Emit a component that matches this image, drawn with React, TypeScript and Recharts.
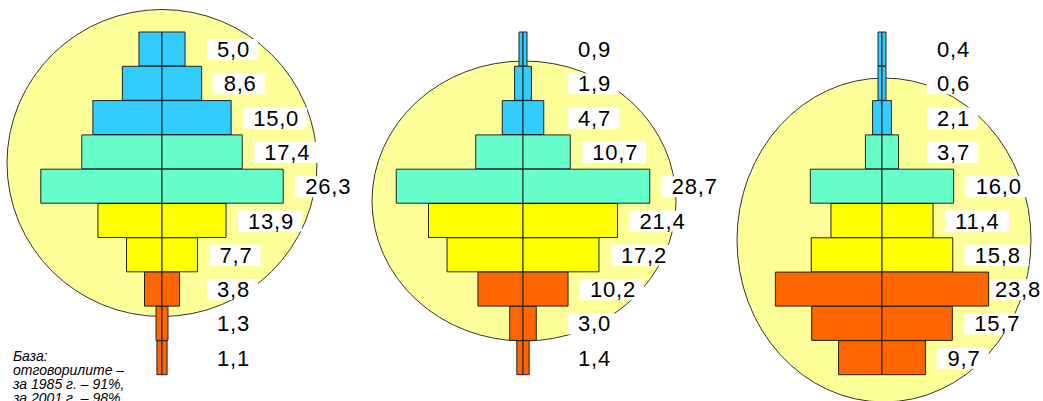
import { BarChart, Bar, XAxis, YAxis, Cell, LabelList } from 'recharts';

// ten strata, top to bottom, same for all three pyramids
const GROUPS = ['1', '2', '3', '4', '5', '6', '7', '8', '9', '10'];

const VALUES_A = [5.0, 8.6, 15.0, 17.4, 26.3, 13.9, 7.7, 3.8, 1.3, 1.1];
const VALUES_B = [0.9, 1.9, 4.7, 10.7, 28.7, 21.4, 17.2, 10.2, 3.0, 1.4];
const VALUES_C = [0.4, 0.6, 2.1, 3.7, 16.0, 11.4, 15.8, 23.8, 15.7, 9.7];

const NOTE_LINES = ['База:', 'отговорилите –', 'за 1985 г. – 91%,', 'за 2001 г. – 98%'];

const ROW_FILLS = [
  '#33CCFF', '#33CCFF', '#33CCFF',
  '#66FFCC', '#66FFCC',
  '#FFFF00', '#FFFF00',
  '#FF6600', '#FF6600', '#FF6600',
];

const W = 1043;
const H = 401;
const PLOT_W = 318;
const LABEL_FONT = 22;
const LABEL_SPACING = 0.8;

const fmt = (v: number) => v.toFixed(1).replace('.', ',');

function textWidth(s: string) {
  let w = 0;
  for (const ch of s) w += (ch === ',' ? 0.278 : 0.556) * LABEL_FONT + LABEL_SPACING;
  return w;
}

function makeLabel(limit: number) {
  return (props: any) => {
    const vb = props.viewBox ?? {};
    const x = Number(props.x ?? vb.x);
    const y = Number(props.y ?? vb.y);
    const width = Number(props.width ?? vb.width);
    const height = Number(props.height ?? vb.height);
    const text = fmt(Number(props.value));
    const tw = textWidth(text);
    const barRight = x + width;
    let tx = x + Math.max(55, width + 22);
    tx = Math.min(tx, limit - tw - 2);
    const cy = y + height / 2;
    const bx = Math.max(tx - 10, barRight + 2);
    return (
      <g>
        <rect x={bx} y={cy - 10} width={tx + tw + 8 - bx} height={21} fill="#ffffff" />
        <text
          x={tx}
          y={cy + 8}
          fontFamily="'Liberation Sans', Arial, sans-serif"
          fontSize={LABEL_FONT}
          letterSpacing={LABEL_SPACING}
          fill="#000"
        >
          {text}
        </text>
      </g>
    );
  };
}

interface PyramidProps {
  values: number[];
  left: number;
  max: number;
  right: number;
}

function Pyramid({ values, left, max, right }: PyramidProps) {
  const data = GROUPS.map((g, i) => ({ group: g, v: values[i], left: -values[i], right: values[i] }));
  const width = PLOT_W + right;
  return (
    <div style={{ position: 'absolute', left, top: 0 }}>
      <BarChart
        width={width}
        height={H}
        data={data}
        layout="vertical"
        stackOffset="sign"
        barCategoryGap={0}
        margin={{ top: 32, bottom: 26, left: 0, right }}
      >
        <XAxis type="number" domain={[-max, max]} hide allowDataOverflow />
        <YAxis type="category" dataKey="group" hide />
        <Bar dataKey="left" stackId="p" stroke="#222" strokeWidth={1} minPointSize={4} isAnimationActive={false}>
          {data.map((d, i) => (
            <Cell key={`l-${d.group}`} fill={ROW_FILLS[i]} />
          ))}
        </Bar>
        <Bar dataKey="right" stackId="p" stroke="#222" strokeWidth={1} minPointSize={4} isAnimationActive={false}>
          {data.map((d, i) => (
            <Cell key={`r-${d.group}`} fill={ROW_FILLS[i]} />
          ))}
          <LabelList dataKey="v" content={makeLabel(width)} />
        </Bar>
      </BarChart>
    </div>
  );
}

export default function App() {
  return (
    <div style={{ position: 'absolute', left: 0, top: 0, width: W, height: H, overflow: 'hidden', background: '#fff' }}>
      <svg width={W} height={H} style={{ position: 'absolute', left: 0, top: 0 }}>
        <ellipse cx={162} cy={163} rx={155} ry={153.5} fill="#FFFF99" stroke="#333" strokeWidth={1} />
        <ellipse cx={524} cy={201} rx={152} ry={140} fill="#FFFF99" stroke="#333" strokeWidth={1} />
        <ellipse cx={884} cy={240} rx={147} ry={162} fill="#FFFF99" stroke="#333" strokeWidth={1} />
        <text
          x={13}
          fontFamily="'Liberation Sans', Arial, sans-serif"
          fontSize={14}
          fontStyle="italic"
          fill="#000"
        >
          {NOTE_LINES.map((line, i) => (
            <tspan key={line} x={13} y={361 + i * 14}>
              {line}
            </tspan>
          ))}
        </text>
      </svg>
      <Pyramid values={VALUES_A} left={3} max={34.5} right={80} />
      <Pyramid values={VALUES_B} left={364} max={36} right={80} />
      <Pyramid values={VALUES_C} left={723} max={35.5} right={2} />
    </div>
  );
}
